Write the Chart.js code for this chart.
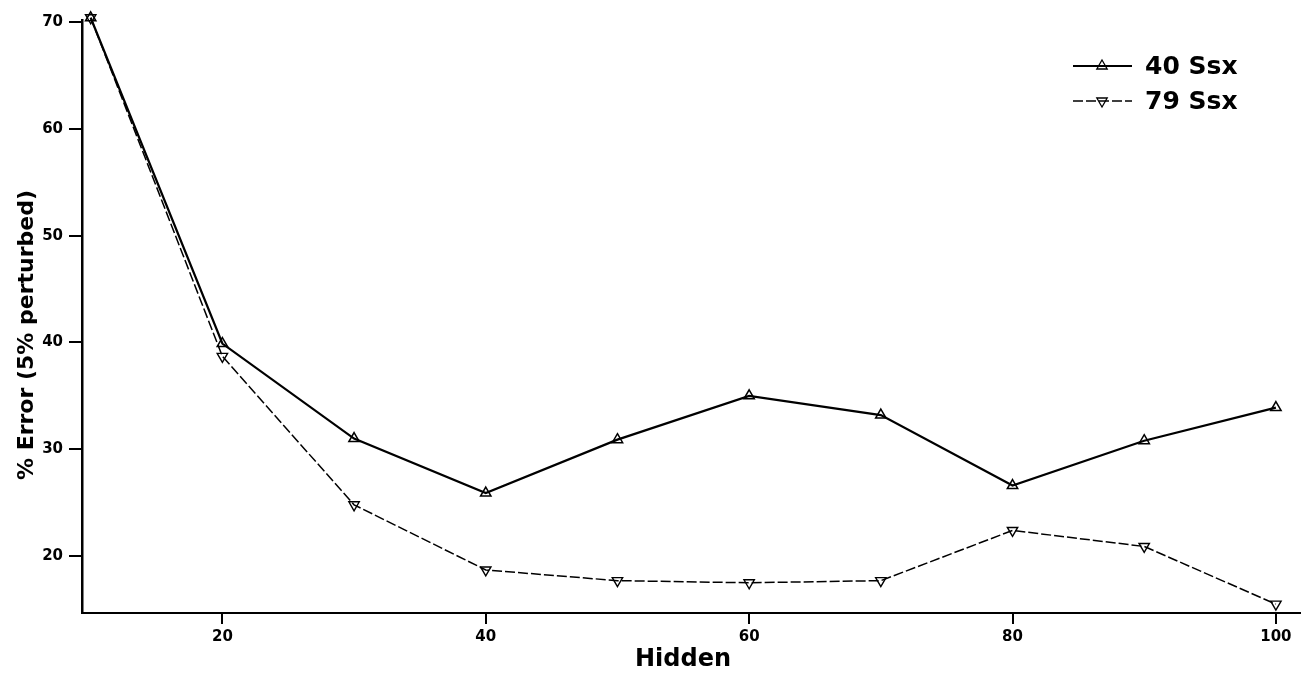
<!DOCTYPE html>
<html>
<head>
<meta charset="utf-8">
<script src="https://cdn.jsdelivr.net/npm/chart.js@4.4.0/dist/chart.umd.min.js"></script>
<style>
html,body{margin:0;padding:0;background:#fff;}
#wrap{width:1308px;height:677px;position:relative;}
</style>
</head>
<body>
<div id="wrap"><canvas id="c" width="1308" height="677"></canvas></div>
<script>
const hidden = [10, 20, 30, 40, 50, 60, 70, 80, 90, 100];
const ssx40 = [70.4, 39.9, 31.0, 25.9, 30.9, 35.0, 33.2, 26.6, 30.8, 33.9];
const ssx79 = [70.4, 38.7, 24.8, 18.7, 17.7, 17.5, 17.7, 22.4, 20.9, 15.5];
const xTicks = [20, 40, 60, 80, 100];
const yTicks = [20, 30, 40, 50, 60, 70];
const seriesLabels = ['40 Ssx', '79 Ssx'];
const xTitle = 'Hidden';
const yTitle = '% Error (5% perturbed)';

const FONT = '"DejaVu Sans", sans-serif';

const textPlugin = {
  id: 'texts',
  afterDraw(chart) {
    const ctx = chart.ctx;
    ctx.save();
    ctx.fillStyle = '#000';
    ctx.font = 'bold 22px ' + FONT;
    ctx.textAlign = 'center';
    ctx.textBaseline = 'middle';
    ctx.translate(27, 335);
    ctx.rotate(-Math.PI / 2);
    ctx.fillText(yTitle, 0, 0);
    ctx.restore();
    ctx.save();
    ctx.fillStyle = '#000';
    ctx.font = 'bold 24px ' + FONT;
    ctx.textAlign = 'center';
    ctx.textBaseline = 'middle';
    ctx.fillText(xTitle, 683, 660);
    const ds = chart.data.datasets;
    const rows = [66, 101];
    ds.forEach((d, i) => {
      const y = rows[i];
      ctx.strokeStyle = '#000';
      ctx.lineWidth = d.borderWidth;
      ctx.setLineDash(d.borderDash || []);
      ctx.beginPath();
      ctx.moveTo(1073, y);
      ctx.lineTo(1132, y);
      ctx.stroke();
      ctx.setLineDash([]);
      ctx.lineWidth = 1.3;
      ctx.fillStyle = 'rgba(255,255,255,0)';
      Chart.helpers.drawPoint(ctx, {pointStyle: 'triangle', radius: 6, rotation: d.pointRotation || 0, borderWidth: 1.3}, 1102, y);
      ctx.fillStyle = '#000';
      ctx.font = 'bold 25px ' + FONT;
      ctx.textAlign = 'left';
      ctx.textBaseline = 'middle';
      ctx.fillText(d.label, 1145, y + 1);
    });
    ctx.restore();
  }
};

new Chart(document.getElementById('c'), {
  type: 'line',
  data: {
    labels: hidden,
    datasets: [
      {
        label: seriesLabels[0],
        data: hidden.map((x, i) => ({x, y: ssx40[i]})),
        borderColor: '#000',
        borderWidth: 2.2,
        pointStyle: 'triangle',
        pointRadius: 6,
        pointBorderWidth: 1.5,
        pointBorderColor: '#000',
        pointBackgroundColor: 'rgba(255,255,255,0)',
        tension: 0,
        clip: false
      },
      {
        label: seriesLabels[1],
        data: hidden.map((x, i) => ({x, y: ssx79[i]})),
        borderColor: '#000',
        borderWidth: 1.5,
        borderDash: [10, 3],
        pointStyle: 'triangle',
        pointRotation: 180,
        pointRadius: 6,
        pointBorderWidth: 1.4,
        pointBorderColor: '#000',
        pointBackgroundColor: 'rgba(255,255,255,0)',
        tension: 0,
        clip: false
      }
    ]
  },
  options: {
    responsive: false,
    animation: false,
    devicePixelRatio: 1,
    layout: {padding: {left: 0, right: 8, top: 20, bottom: 0}},
    plugins: {legend: {display: false}, tooltip: {enabled: false}},
    scales: {
      x: {
        type: 'linear',
        min: 9.34,
        max: 101.83,
        afterFit(s) { s.height = 64; },
        afterBuildTicks(s) { s.ticks = xTicks.map(v => ({value: v})); },
        grid: {drawOnChartArea: false, drawTicks: true, tickLength: 11, color: '#000', lineWidth: 2},
        border: {display: true, color: '#000', width: 2},
        ticks: {color: '#000', font: {family: FONT, size: 15, weight: 'bold'}, padding: 4, maxRotation: 0, autoSkip: false}
      },
      y: {
        type: 'linear',
        min: 14.67,
        max: 70.19,
        afterFit(s) { s.width = 82; },
        afterBuildTicks(s) { s.ticks = yTicks.map(v => ({value: v})); },
        grid: {drawOnChartArea: false, drawTicks: true, tickLength: 13, color: '#000', lineWidth: 2},
        border: {display: true, color: '#000', width: 2.5},
        ticks: {color: '#000', font: {family: FONT, size: 15, weight: 'bold'}, padding: 6, autoSkip: false}
      }
    }
  },
  plugins: [textPlugin]
});
</script>
</body>
</html>
